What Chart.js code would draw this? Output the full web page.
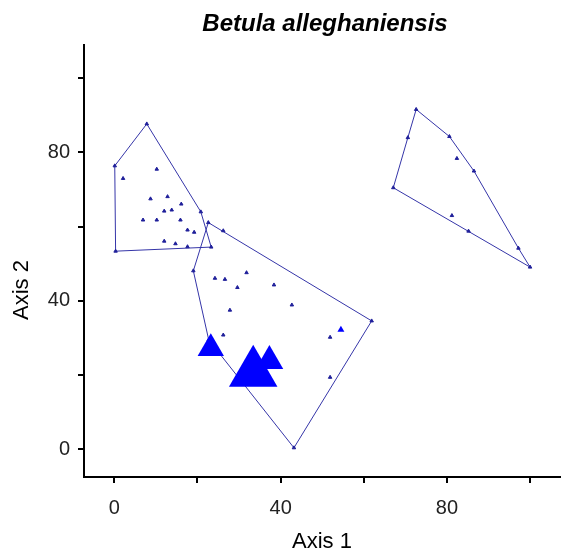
<!DOCTYPE html>
<html>
<head>
<meta charset="utf-8">
<title>Betula alleghaniensis</title>
<script src="https://cdn.jsdelivr.net/npm/chart.js@4.4.0/dist/chart.umd.min.js"></script>
<style>
  body { margin: 0; background: #fff; }
</style>
</head>
<body>
<canvas id="ordination" width="561" height="553"></canvas>
<script>
var chartTitle = 'Betula alleghaniensis';
var xTitle = 'Axis 1';
var yTitle = 'Axis 2';

// axis ticks (labels only every second tick)
var xTicks = [0, 20, 40, 60, 80, 100];
var yTicks = [0, 20, 40, 60, 80, 100];
var labelledTicks = [0, 40, 80];

// group 1 : upper left cluster
var hull1 = [[7.8, 87.7], [20.8, 64.0], [23.3, 54.5], [0.3, 53.4], [0.1, 76.4]];
var inner1 = [[2.1, 73.0], [10.2, 75.5], [8.7, 67.5], [12.8, 68.1], [16.1, 66.1],
	[12.0, 64.2], [13.8, 64.5], [6.9, 61.8], [10.2, 61.8], [15.9, 61.8],
	[17.6, 59.1], [19.2, 58.5], [12.0, 56.1], [14.7, 55.4], [17.6, 54.6]];

// group 2 : middle cluster
var hull2 = [[22.6, 61.1], [61.9, 34.6], [43.2, 0.4], [22.7, 29.5], [19.0, 48.1]];
var inner2 = [[26.2, 58.9], [31.8, 47.6], [24.2, 46.1], [26.6, 45.8], [38.4, 44.3],
	[29.6, 43.6], [42.7, 38.9], [27.8, 37.5], [26.2, 30.8], [51.9, 30.2], [51.9, 19.4]];

// group 3 : right cluster
var hull3 = [[72.6, 91.6], [80.6, 84.3], [86.5, 75.0], [97.2, 54.2], [100.0, 49.1],
	[67.1, 70.5], [70.6, 84.0]];
var inner3 = [[82.4, 78.4], [81.2, 63.0], [85.2, 58.8]];

// plots where the species is present, with relative abundance
var present = [[23.2, 27.2], [33.4, 20.6], [37.3, 23.8], [54.5, 32.2]];
var abundance = [3.8, 7, 4, 1];

function toXY(list) {
	return list.map(function (p) { return { x: p[0], y: p[1] }; });
}

function closed(list) {
	return toXY(list.concat([list[0]]));
}

function hullSet(list) {
	return {
		data: closed(list),
		showLine: true,
		borderColor: '#3535a8',
		borderWidth: 1,
		pointRadius: 0,
		order: 3
	};
}

var plots = [].concat(hull1, inner1, hull2, inner2, hull3, inner3);

var fixedTicks = function (values) {
	return function (scale) {
		scale.ticks = values.map(function (v) { return { value: v }; });
	};
};

var tickLabel = function (value) {
	return labelledTicks.indexOf(value) >= 0 ? value : '';
};

var axisText = {
	id: 'axisText',
	afterDraw: function (chart) {
		var ctx = chart.ctx;
		var area = chart.chartArea;
		ctx.save();
		ctx.fillStyle = '#000';
		ctx.textAlign = 'center';
		ctx.textBaseline = 'middle';
		ctx.font = 'italic bold 24px "Liberation Sans", Arial, sans-serif';
		ctx.fillText(chartTitle, (area.left + area.right) / 2 + 3, 24);
		ctx.font = '22px "Liberation Sans", Arial, sans-serif';
		ctx.translate(22, 290);
		ctx.rotate(-Math.PI / 2);
		ctx.fillText(yTitle, 0, 0);
		ctx.restore();
	}
};

new Chart(document.getElementById('ordination'), {
	type: 'scatter',
	data: {
		datasets: [
			hullSet(hull1),
			hullSet(hull2),
			hullSet(hull3),
			{
				data: toXY(plots),
				pointStyle: 'triangle',
				pointRadius: 2,
				borderWidth: 1,
				backgroundColor: '#1f1f9a',
				borderColor: '#1f1f9a',
				order: 2
			},
			{
				data: toXY(present),
				pointStyle: 'triangle',
				pointRadius: abundance.map(function (a) { return a * 4; }),
				borderWidth: 0,
				backgroundColor: '#0000ff',
				borderColor: '#0000ff',
				order: 1
			}
		]
	},
	options: {
		responsive: false,
		animation: false,
		layout: {
			autoPadding: false,
			padding: { top: 45, right: 1, left: 0, bottom: 0 }
		},
		plugins: {
			legend: { display: false },
			tooltip: { enabled: false }
		},
		scales: {
			x: {
				type: 'linear',
				min: -7.3,
				max: 107.2,
				afterBuildTicks: fixedTicks(xTicks),
				afterFit: function (scale) { scale.height = 76; },
				grid: { drawOnChartArea: false, tickLength: 6, lineWidth: 2, color: '#000' },
				border: { display: true, width: 2, color: '#000' },
				ticks: {
					callback: tickLabel,
					autoSkip: false,
					maxRotation: 0,
					padding: 13,
					color: '#222',
					font: { family: '"Liberation Sans", Arial, sans-serif', size: 20 }
				},
				title: {
					display: true,
					text: xTitle,
					color: '#000',
					padding: { top: 0, bottom: 0 },
					font: { family: '"Liberation Sans", Arial, sans-serif', size: 22, lineHeight: 1 }
				}
			},
			y: {
				type: 'linear',
				min: -7.47,
				max: 108.97,
				afterBuildTicks: fixedTicks(yTicks),
				afterFit: function (scale) { scale.width = 84; },
				grid: { drawOnChartArea: false, tickLength: 6, lineWidth: 2, color: '#000' },
				border: { display: true, width: 2, color: '#000' },
				ticks: {
					callback: tickLabel,
					autoSkip: false,
					padding: 8,
					color: '#222',
					font: { family: '"Liberation Sans", Arial, sans-serif', size: 20 }
				}
			}
		}
	},
	plugins: [axisText]
});
</script>
</body>
</html>
